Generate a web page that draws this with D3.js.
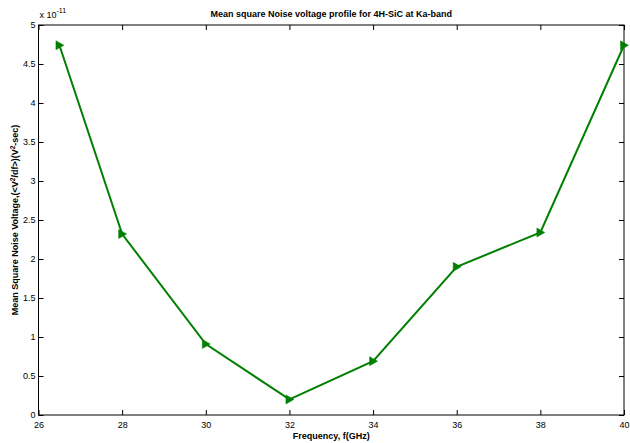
<!DOCTYPE html>
<html>
<head>
<meta charset="utf-8">
<script src="https://cdn.jsdelivr.net/npm/d3@7"></script>
<style>
  body { margin: 0; background: #fff; }
  text { font-family: Arial, "Liberation Sans", sans-serif; }
</style>
</head>
<body>
<div id="chart"></div>
<script>
// Data (values in units of 1e-11)
const freq = [26.5, 28, 30, 32, 34, 36, 38, 40];
const noise = [4.74, 2.32, 0.91, 0.2, 0.69, 1.9, 2.34, 4.74];
const xTicks = [26, 28, 30, 32, 34, 36, 38, 40];
const yTicks = [0, 0.5, 1, 1.5, 2, 2.5, 3, 3.5, 4, 4.5, 5];

const W = 630, H = 443;
const margin = { top: 25, right: 6, bottom: 28, left: 38.5 },
    width = W - margin.left - margin.right,
    height = H - margin.top - margin.bottom;

const svg = d3.select("#chart").append("svg")
    .attr("width", W).attr("height", H);

const g = svg.append("g")
    .attr("transform", `translate(${margin.left},${margin.top})`);

const x = d3.scaleLinear().domain([26, 40]).range([0, width]);
const y = d3.scaleLinear().domain([0, 5]).range([height, 0]);

// Axes box
g.append("rect")
    .attr("width", width).attr("height", height)
    .attr("fill", "none").attr("stroke", "#000").attr("stroke-width", 1);

// Bottom ticks (inside) and labels
const xAxis = g.append("g").attr("transform", `translate(0,${height})`)
    .call(d3.axisBottom(x).tickValues(xTicks).tickSize(-5).tickPadding(8).tickFormat(d3.format("d")));
// Top ticks
const xAxisTop = g.append("g")
    .call(d3.axisTop(x).tickValues(xTicks).tickSize(-5).tickFormat(""));
// Left ticks
const yAxis = g.append("g")
    .call(d3.axisLeft(y).tickValues(yTicks).tickSize(-5).tickPadding(3).tickFormat(d => d));
// Right ticks
const yAxisRight = g.append("g").attr("transform", `translate(${width},0)`)
    .call(d3.axisRight(y).tickValues(yTicks).tickSize(-5).tickFormat(""));

[xAxis, xAxisTop, yAxis, yAxisRight].forEach(a => {
    a.select(".domain").remove();
    a.selectAll("line").attr("stroke", "#000");
    a.selectAll("text").attr("font-size", 9).attr("fill", "#000")
        .style("font-family", "Arial, 'Liberation Sans', sans-serif");
});
xAxis.selectAll("text").attr("dy", "0.5em");

// Line
const line = d3.line().x((d, i) => x(freq[i])).y(d => y(d));
g.append("path")
    .datum(noise)
    .attr("d", line)
    .attr("fill", "none")
    .attr("stroke", "#008000")
    .attr("stroke-width", 2);

// Right-pointing triangle markers
g.selectAll(".marker")
    .data(noise)
    .enter().append("path")
    .attr("class", "marker")
    .attr("d", "M-3.5,-4.5 L4.5,0 L-3.5,4.5 Z")
    .attr("transform", (d, i) => `translate(${x(freq[i])},${y(d)})`)
    .attr("fill", "#008000")
    .attr("stroke", "#008000")
    .attr("stroke-width", 0.5);

// Exponent label
const expo = svg.append("text")
    .attr("x", margin.left + 1).attr("y", margin.top - 7)
    .attr("font-size", 9);
expo.append("tspan").text("x 10");
expo.append("tspan").attr("dy", -5).attr("font-size", 7).text("-11");

// Title
svg.append("text")
    .attr("x", margin.left + width / 2).attr("y", 17)
    .attr("text-anchor", "middle")
    .attr("font-size", 9).attr("font-weight", "bold")
    .text("Mean square Noise voltage profile for 4H-SiC at Ka-band");

// X label
svg.append("text")
    .attr("x", margin.left + width / 2).attr("y", H - 4)
    .attr("text-anchor", "middle")
    .attr("font-size", 9).attr("font-weight", "bold")
    .text("Frequency, f(GHz)");

// Y label
const yl = svg.append("text")
    .attr("transform", `translate(18,${margin.top + height / 2}) rotate(-90)`)
    .attr("text-anchor", "middle")
    .attr("font-size", 9).attr("font-weight", "bold");
yl.append("tspan").text("Mean Square Noise Voltage,(<V");
yl.append("tspan").attr("dy", -3).attr("font-size", 6.5).text("2");
yl.append("tspan").attr("dy", 3).text("/df>)(V");
yl.append("tspan").attr("dy", -3).attr("font-size", 6.5).text("2");
yl.append("tspan").attr("dy", 3).text("-sec)");
</script>
</body>
</html>
